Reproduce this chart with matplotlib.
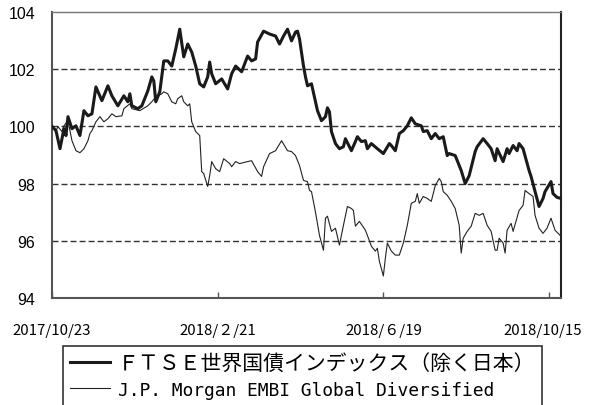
import matplotlib
matplotlib.use('Agg')
import matplotlib.pyplot as plt
import matplotlib.transforms as mtransforms

# FTSE world government bond index (ex Japan), business-day index vs level
ftse_idx = [0, 2, 4, 6, 7, 8, 10, 12, 14, 16, 18, 20, 22, 25, 28, 30, 33, 36, 38, 39,
            40, 43, 45, 48, 50, 51, 52, 54, 56, 58, 60, 62, 64, 66, 68, 70, 72, 74, 76, 78,
            79, 80, 82, 85, 88, 90, 92, 95, 98, 100, 102, 103, 106, 109, 112, 114, 116, 118, 120, 122,
            123, 124, 126, 127, 128, 130, 132, 133, 135, 137, 138, 139, 140, 142, 144, 146, 147, 150, 152, 153,
            155, 157, 158, 160, 163, 166, 169, 170, 172, 174, 176, 178, 180, 182, 185, 186, 188, 190, 192, 194,
            196, 198, 199, 202, 205, 207, 209, 212, 213, 216, 218, 220, 222, 223, 226, 228, 229, 231, 233, 234,
            236, 239, 240, 242, 244, 246, 247, 250, 251, 253, 255]
ftse_val = [100.00, 99.85, 99.22, 99.92, 99.68, 100.34, 99.92, 100.02, 99.68, 100.55,
            100.37, 100.44, 101.38, 100.90, 101.42, 101.07, 100.72, 101.07, 100.86, 101.14,
            100.72, 100.62, 100.72, 101.24, 101.73, 101.59, 100.86, 101.21, 102.29, 102.29,
            102.11, 102.71, 103.40, 102.43, 102.88, 102.60, 102.11, 101.49, 101.38, 101.73,
            102.25, 101.84, 101.49, 101.66, 101.31, 101.84, 102.11, 101.91, 102.46, 102.29,
            102.36, 102.95, 103.33, 103.23, 103.16, 102.88, 103.16, 103.40, 102.99, 103.30,
            103.33, 103.06, 102.11, 101.73, 101.42, 101.49, 100.86, 100.55, 100.20, 100.34,
            100.65, 100.51, 99.82, 99.40, 99.22, 99.29, 99.57, 99.15, 99.47, 99.64,
            99.47, 99.50, 99.22, 99.40, 99.22, 99.05, 99.40, 99.33, 99.15, 99.75,
            99.85, 100.02, 100.30, 100.09, 100.02, 99.82, 99.85, 99.57, 99.75, 99.57,
            99.64, 98.98, 99.05, 98.98, 98.46, 98.00, 98.28, 99.12, 99.29, 99.57,
            99.40, 99.22, 98.80, 99.22, 98.77, 99.22, 99.05, 99.33, 99.15, 99.40,
            99.22, 98.46, 98.25, 97.72, 97.20, 97.48, 97.72, 98.07, 97.65, 97.52, 97.48]

# J.P. Morgan EMBI Global Diversified
embi_idx = [0, 2, 3, 5, 6, 8, 10, 12, 14, 16, 18, 19, 20, 22, 24, 26, 28, 30, 32, 35,
            36, 39, 40, 44, 48, 50, 52, 55, 56, 58, 60, 62, 63, 65, 66, 68, 69, 70, 72, 74,
            75, 76, 78, 79, 80, 82, 84, 86, 89, 90, 92, 94, 98, 100, 103, 105, 106, 109, 112, 115,
            118, 120, 122, 124, 126, 128, 129, 130, 132, 134, 136, 137, 138, 140, 142, 144, 146, 148, 150, 151,
            152, 154, 157, 158, 160, 162, 163, 164, 166, 167, 168, 170, 172, 174, 176, 178, 180, 182, 183, 184,
            186, 188, 190, 192, 194, 195, 196, 198, 200, 202, 204, 205, 206, 208, 210, 212, 214, 216, 218, 220,
            222, 223, 224, 226, 227, 228, 230, 231, 234, 236, 237, 239, 241, 242, 244, 246, 248, 250, 252, 255]
embi_val = [100.00, 99.85, 99.99, 99.82, 100.02, 100.20, 99.50, 99.15, 99.08, 99.22,
            99.50, 99.75, 99.85, 100.16, 100.34, 100.16, 100.27, 100.44, 100.34, 100.37,
            100.62, 100.79, 100.62, 100.55, 100.72, 100.86, 101.03, 101.14, 101.21, 101.14,
            100.86, 100.79, 100.97, 101.07, 100.86, 100.72, 100.79, 100.16, 99.82, 99.68,
            98.42, 98.35, 97.90, 98.28, 98.77, 98.52, 98.42, 98.87, 98.70, 98.59,
            98.77, 98.70, 98.77, 98.80, 98.42, 98.25, 98.59, 99.05, 99.15, 99.50,
            99.15, 99.12, 98.98, 98.63, 98.11, 98.07, 97.76, 97.72, 97.00, 96.19,
            95.67, 96.79, 96.86, 96.33, 96.44, 95.85, 96.54, 97.20, 97.13, 97.06,
            96.51, 96.68, 96.37, 96.19, 95.81, 95.64, 95.74, 95.29, 94.77, 95.39,
            95.92, 95.64, 95.50, 95.50, 95.92, 96.54, 97.31, 97.38, 97.65, 97.31,
            97.55, 97.48, 97.38, 97.93, 98.18, 98.07, 97.72, 97.59, 97.38, 97.13,
            96.54, 95.57, 96.09, 96.33, 96.51, 96.96, 96.89, 96.96, 96.54, 96.33,
            95.67, 95.67, 96.09, 95.92, 95.57, 96.37, 96.61, 96.33, 97.06, 97.24,
            97.76, 97.65, 97.55, 96.89, 96.44, 96.26, 96.44, 96.79, 96.37, 96.16]

tick_pos = [0, 83, 166, 249]
tick_labels = ['2017/10/23', '2018/２/21', '2018/６/19', '2018/10/15']
y_ticks = [94, 96, 98, 100, 102, 104]
grid_levels = [96, 98, 100, 102]
names_legend = ['ＦＴＳＥ世界国債インデックス（除く日本）', 'J.P. Morgan EMBI Global Diversified']

fig = plt.figure(figsize=(5.91, 4.06), dpi=100)
ax = fig.add_axes([52/591, 1 - 299/406, 509/591, 286/406])

for g in grid_levels:
    ax.axhline(g, color='#333333', lw=1.0, dashes=(4.3, 2.2), zorder=1)

l_embi, = ax.plot(embi_idx, embi_val, color='#222222', lw=0.8, zorder=3)
l_ftse, = ax.plot(ftse_idx, ftse_val, color='#1a1a1a', lw=2.2, zorder=4)

ax.set_xlim(0, 255)
ax.set_ylim(94, 104)
ax.set_yticks(y_ticks)
ax.set_yticklabels([str(t) for t in y_ticks], fontfamily='Liberation Sans', fontsize=11.5)
ax.tick_params(axis='y', length=0, pad=12)
ax.set_xticks(tick_pos)
ax.set_xticklabels(tick_labels, fontfamily=['Noto Sans CJK JP', 'DejaVu Sans'], fontsize=10.8)
ax.tick_params(axis='x', direction='in', length=4.3, width=1, color='#555555', pad=18)

# last date label sits a little left of its tick, like the original
last = ax.get_xticklabels()[-1]
last.set_transform(last.get_transform() +
                   mtransforms.ScaledTranslation(-6/100, 0, fig.dpi_scale_trans))

ax.spines['left'].set_color('#555555')
ax.spines['left'].set_linewidth(1.5)
ax.spines['bottom'].set_color('#555555')
ax.spines['bottom'].set_linewidth(1.5)
ax.spines['top'].set_color('#777777')
ax.spines['top'].set_linewidth(1.0)
ax.spines['right'].set_color('#222222')
ax.spines['right'].set_linewidth(1.5)

leg = fig.legend([l_ftse, l_embi], names_legend, loc='upper left',
                 bbox_to_anchor=(63/591, 1 - 347/406), borderaxespad=0,
                 prop={'family': ['Noto Sans CJK JP', 'DejaVu Sans'], 'size': 15},
                 fancybox=False, edgecolor='#333333', framealpha=1, borderpad=0.32,
                 handlelength=1.92, handletextpad=0.4, labelspacing=0.3)
leg.get_frame().set_linewidth(1.2)
# second row is set in a fixed-width face in the original
leg.get_texts()[1].set_fontfamily('DejaVu Sans Mono')
leg.get_texts()[1].set_fontsize(12.9)

plt.savefig('out.png', dpi=100)
